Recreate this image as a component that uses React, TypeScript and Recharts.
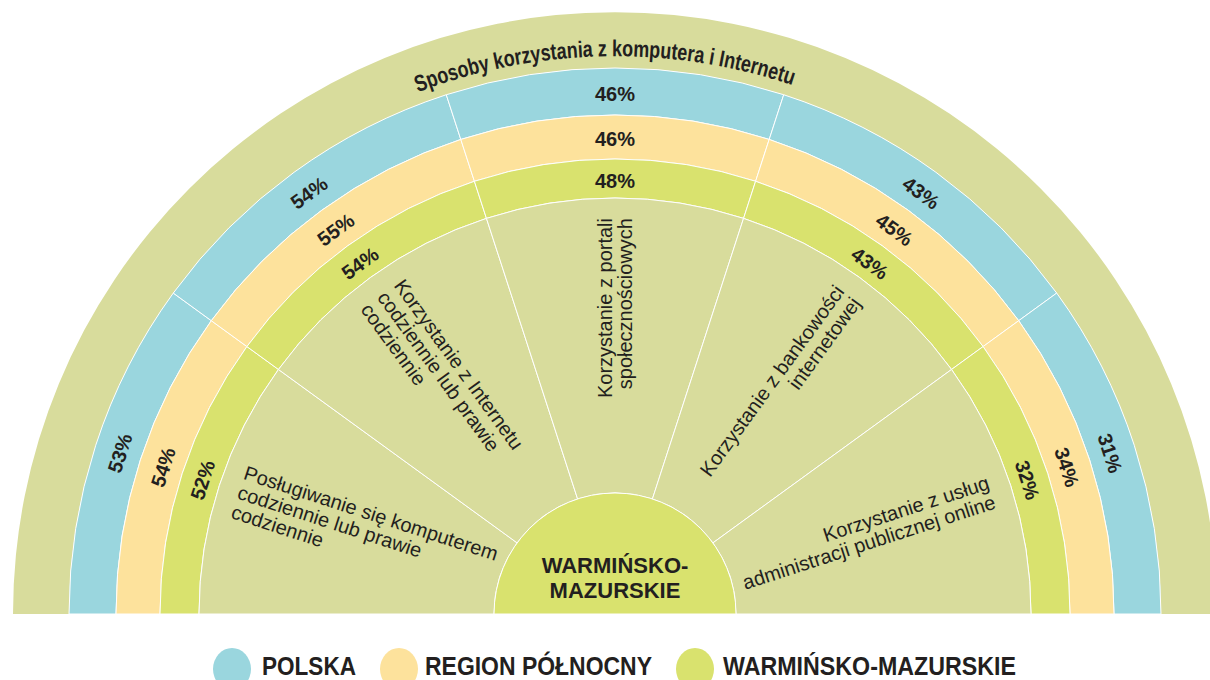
import { PieChart, Pie, Cell, Legend } from "recharts";

// Categories (one equal-width sector each), left to right
const categories = [
  "Posługiwanie się komputerem codziennie lub prawie codziennie",
  "Korzystanie z Internetu codziennie lub prawie codziennie",
  "Korzystanie z portali społecznościowych",
  "Korzystanie z bankowości internetowej",
  "Korzystanie z usług administracji publicznej online",
];
const categoryLines = [
  ["Posługiwanie się komputerem", "codziennie lub prawie", "codziennie"],
  ["Korzystanie z Internetu", "codziennie lub prawie", "codziennie"],
  ["Korzystanie z portali", "społecznościowych"],
  ["Korzystanie z bankowości", "internetowej"],
  ["Korzystanie z usług", "administracji publicznej online"],
];
const sectorShare = [1, 1, 1, 1, 1];

// Percentages per series
const polska = [53, 54, 46, 43, 31];
const regionPolnocny = [54, 55, 46, 45, 34];
const warminskoMazurskie = [52, 54, 48, 43, 32];

const seriesNames = ["POLSKA", "REGION PÓŁNOCNY", "WARMIŃSKO-MAZURSKIE"];
const title = "Sposoby korzystania z komputera i Internetu";
const centerLines = ["WARMIŃSKO-", "MAZURSKIE"];

const BLUE = "#9AD6DE";
const PEACH = "#FDE29C";
const GREEN = "#D9E26E";
const OLIVE = "#D8DC9C";
const INK = "#231F20";
const SANS = "'Liberation Sans', Arial, sans-serif";

const CX = 615;
const CY = 614;
const RAD = Math.PI / 180;

const rows = categories.map((name, i) => ({
  name,
  share: sectorShare[i],
  polska: polska[i],
  region: regionPolnocny[i],
  wm: warminskoMazurskie[i],
}));

const rings = [
  { key: "polska", values: polska, inner: 499, outer: 546, color: BLUE },
  { key: "region", values: regionPolnocny, inner: 455, outer: 499, color: PEACH },
  { key: "wm", values: warminskoMazurskie, inner: 416, outer: 455, color: GREEN },
];

type LabelProps = {
  cx: number;
  cy: number;
  midAngle: number;
  innerRadius: number;
  outerRadius: number;
  index: number;
};

const valueLabel = (values: number[]) => (props: LabelProps) => {
  const { cx, cy, midAngle, innerRadius, outerRadius, index } = props;
  const r = (innerRadius + outerRadius) / 2 - 2;
  const x = cx + r * Math.cos(-midAngle * RAD);
  const y = cy + r * Math.sin(-midAngle * RAD);
  return (
    <text
      key={`v-${index}`}
      x={x}
      y={y}
      transform={`rotate(${90 - midAngle} ${x} ${y})`}
      textAnchor="middle"
      dominantBaseline="central"
      fontFamily={SANS}
      fontWeight={700}
      fontSize={20}
      fill={INK}
    >
      {`${values[index]}%`}
    </text>
  );
};

const categoryLabel = (props: LabelProps) => {
  const { cx, cy, midAngle, index } = props;
  const r = 396;
  const x = cx + r * Math.cos(-midAngle * RAD);
  const y = cy + r * Math.sin(-midAngle * RAD);
  const left = midAngle > 91;
  const rot = left ? 180 - midAngle : -midAngle;
  const lines = categoryLines[index];
  const lh = 20.5;
  return (
    <text
      key={`c-${index}`}
      transform={`translate(${x} ${y}) rotate(${rot})`}
      textAnchor={left ? "start" : "end"}
      dominantBaseline="central"
      fontFamily={SANS}
      fontSize={20}
      fill={INK}
    >
      {lines.map((line, k) => (
        <tspan key={k} x={0} y={(k - (lines.length - 1) / 2) * lh}>
          {line}
        </tspan>
      ))}
    </text>
  );
};

const titleLabel = (props: LabelProps) => {
  const { cx, cy } = props;
  const r = 558;
  return (
    <g key="title">
      <defs>
        <path id="titleArc" d={`M ${cx - r} ${cy} A ${r} ${r} 0 0 1 ${cx + r} ${cy}`} />
      </defs>
      <text fontFamily={SANS} fontWeight={700} fontSize={23} fill={INK}>
        <textPath
          href="#titleArc"
          startOffset="49.4%"
          textAnchor="middle"
          textLength={382}
          lengthAdjust="spacingAndGlyphs"
        >
          {title}
        </textPath>
      </text>
    </g>
  );
};

const centerLabel = (props: LabelProps) => {
  const { cx, cy } = props;
  return (
    <text key="center" textAnchor="middle" fontFamily={SANS} fontWeight={700} fontSize={22} fill={INK}>
      <tspan x={cx} y={cy - 41}>{centerLines[0]}</tspan>
      <tspan x={cx} y={cy - 16}>{centerLines[1]}</tspan>
    </text>
  );
};

const legendColors = [BLUE, PEACH, GREEN];
const legendDots = [232, 399, 695];
const legendText = [262, 425, 723];
const legendWidths = [94, 227, 293];

function LegendRow() {
  return (
    <svg width={1210} height={40} style={{ display: "block" }}>
      {seriesNames.map((name, i) => (
        <g key={name}>
          <ellipse cx={legendDots[i]} cy={29} rx={19} ry={21} fill={legendColors[i]} />
          <text
            x={legendText[i]}
            y={35}
            fontFamily={SANS}
            fontWeight={700}
            fontSize={26}
            fill={INK}
            textLength={legendWidths[i]}
            lengthAdjust="spacingAndGlyphs"
          >
            {name}
          </text>
        </g>
      ))}
    </svg>
  );
}

export default function App() {
  return (
    <div style={{ position: "absolute", left: 0, top: 0, width: 1210, height: 680, background: "#fff" }}>
      <PieChart width={1210} height={680} margin={{ top: 0, right: 0, bottom: 0, left: 0 }}>
        <Pie
          data={[{ name: title, share: 1 }]}
          dataKey="share"
          cx={CX}
          cy={CY}
          startAngle={180}
          endAngle={0}
          innerRadius={546}
          outerRadius={602}
          fill={OLIVE}
          stroke="none"
          label={titleLabel}
          labelLine={false}
          isAnimationActive={false}
        />
        {rings.map((ring) => (
          <Pie
            key={ring.key}
            data={rows}
            dataKey="share"
            cx={CX}
            cy={CY}
            startAngle={180}
            endAngle={0}
            innerRadius={ring.inner}
            outerRadius={ring.outer}
            stroke="#fff"
            strokeWidth={1}
            label={valueLabel(ring.values)}
            labelLine={false}
            isAnimationActive={false}
          >
            {rows.map((r) => (
              <Cell key={r.name} fill={ring.color} />
            ))}
          </Pie>
        ))}
        <Pie
          data={rows}
          dataKey="share"
          cx={CX}
          cy={CY}
          startAngle={180}
          endAngle={0}
          innerRadius={121}
          outerRadius={416}
          fill={OLIVE}
          stroke="#fff"
          strokeWidth={1}
          label={categoryLabel}
          labelLine={false}
          isAnimationActive={false}
        />
        <Pie
          data={[{ name: "WARMIŃSKO-MAZURSKIE", share: 1 }]}
          dataKey="share"
          cx={CX}
          cy={CY}
          startAngle={180}
          endAngle={0}
          innerRadius={0}
          outerRadius={121}
          fill={GREEN}
          stroke="#fff"
          strokeWidth={1}
          label={centerLabel}
          labelLine={false}
          isAnimationActive={false}
        />
        <Legend
          content={() => <LegendRow />}
          wrapperStyle={{ position: "absolute", left: 0, top: 640, width: 1210, height: 40 }}
        />
      </PieChart>
    </div>
  );
}
